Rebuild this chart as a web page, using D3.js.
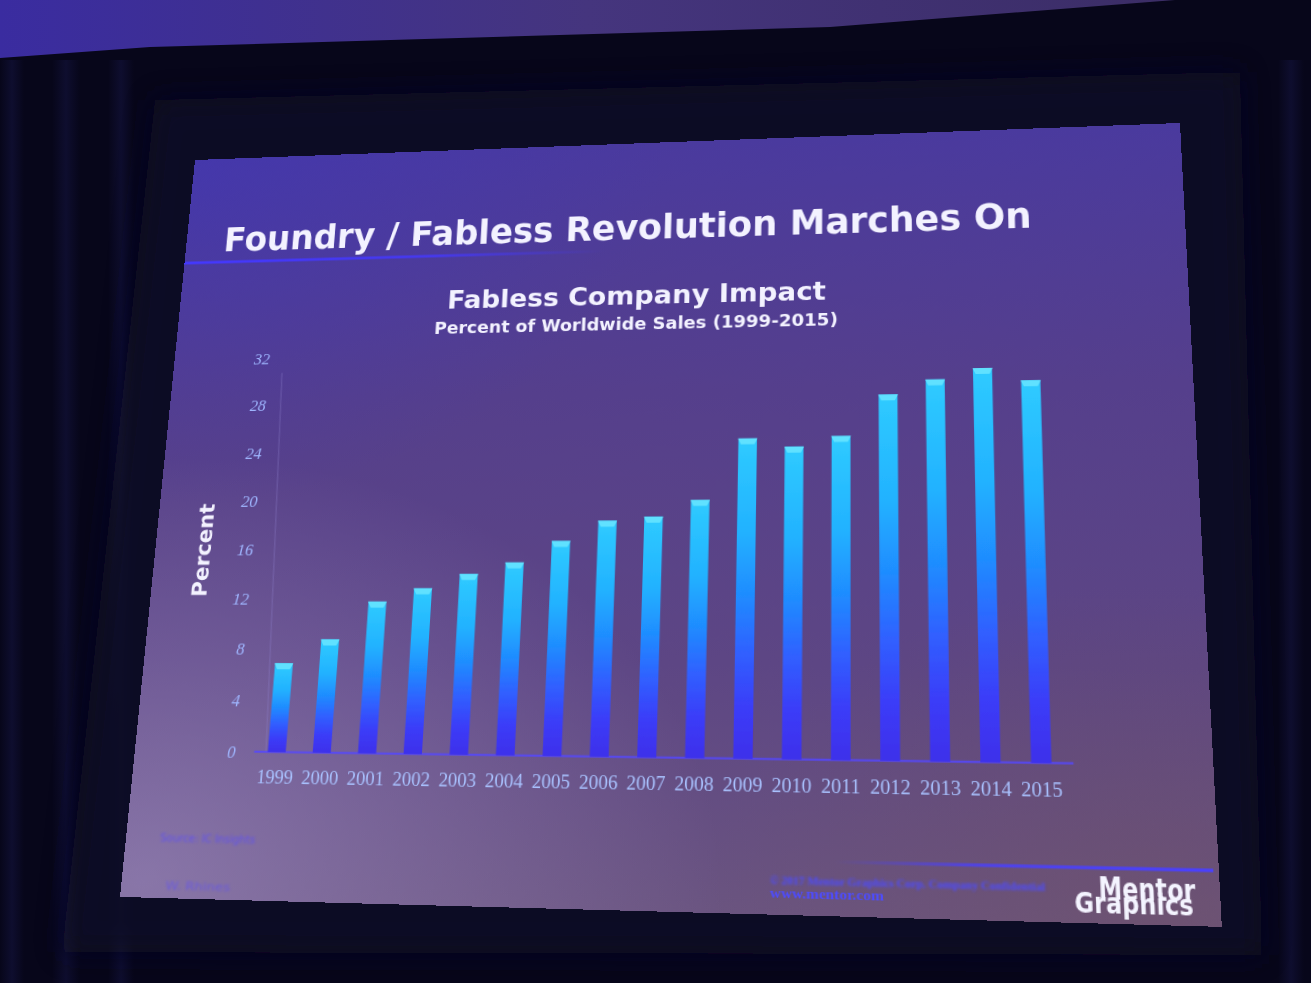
<!DOCTYPE html>
<html><head><meta charset="utf-8">
<script src="https://cdn.jsdelivr.net/npm/d3@7"></script>
<style>
html,body{margin:0;padding:0;width:1311px;height:983px;overflow:hidden;background:#07061a;}
#bg{position:absolute;left:0;top:0;}
#slide{position:absolute;left:0;top:0;width:1024px;height:768px;transform-origin:0 0;}
</style></head><body>
<svg id="bg" width="1311" height="983"></svg>
<div id="slide"></div>
<script>
// ---- data ----
const years = ["1999","2000","2001","2002","2003","2004","2005","2006","2007","2008","2009","2010","2011","2012","2013","2014","2015"];
const percent = [6.9, 8.8, 11.8, 12.85, 14.0, 14.9, 16.6, 18.2, 18.5, 19.8, 24.7, 24.0, 24.8, 28.1, 29.25, 30.1, 29.05];
const yTicks = [0, 4, 8, 12, 16, 20, 24, 28, 32];
const slideTitle = "Foundry / Fabless Revolution Marches On";
const chartTitle = "Fabless Company Impact";
const chartSubtitle = "Percent of Worldwide Sales (1999-2015)";
const yAxisTitle = "Percent";
const footerLines = ["© 2017 Mentor Graphics Corp.     Company Confidential", "www.mentor.com"];
const sourceLines = ["Source: IC Insights", "W. Rhines"];
const logoLines = ["Mentor", "Graphics"];

// ---- photo background ----
const bg = d3.select("#bg");
const bdefs = bg.append("defs");
const wall = bdefs.append("linearGradient").attr("id","wall").attr("x1",0).attr("x2",1).attr("y1",0).attr("y2",0);
wall.append("stop").attr("offset",0).attr("stop-color","#3a2ca0");
wall.append("stop").attr("offset",0.5).attr("stop-color","#45357e");
wall.append("stop").attr("offset",1).attr("stop-color","#3b2d66");
bdefs.append("filter").attr("id","bgblur").attr("x",-0.2).attr("y",-0.2).attr("width",1.4).attr("height",1.4)
  .append("feGaussianBlur").attr("stdDeviation",14);
const fold = bdefs.append("linearGradient").attr("id","fold").attr("x1",0).attr("x2",1).attr("y1",0).attr("y2",0);
fold.append("stop").attr("offset",0).attr("stop-color","#161645").attr("stop-opacity",0);
fold.append("stop").attr("offset",0.5).attr("stop-color","#161645").attr("stop-opacity",0.8);
fold.append("stop").attr("offset",1).attr("stop-color","#161645").attr("stop-opacity",0);
bg.append("rect").attr("width",1311).attr("height",983).attr("fill","#07061a");
bg.append("polygon").attr("points","0,0 1175,0 830,27 150,47 0,58").attr("fill","url(#wall)");
// curtain folds
[[0,24],[52,28],[108,26],[1278,26]].forEach(([fx,fw])=>{
  bg.append("rect").attr("x",fx).attr("y",60).attr("width",fw).attr("height",923).attr("fill","url(#fold)").attr("opacity",0.6);
});
bg.append("polygon").attr("points","155,100 1240,72 1262,955 62,952").attr("fill","#0d0b28").attr("opacity",0.9).attr("filter","url(#bgblur)");

// ---- slide with perspective ----
const W = 1024, H = 768;
const quad = [[195,160],[1180,123],[1222,927],[120,897]];
function quadParams(W,H,q){
  const [x0,y0]=q[0],[x1,y1]=q[1],[x2,y2]=q[2],[x3,y3]=q[3];
  const sx=x0-x1+x2-x3, sy=y0-y1+y2-y3;
  const dx1=x1-x2, dx2=x3-x2, dy1=y1-y2, dy2=y3-y2;
  const det=dx1*dy2-dx2*dy1;
  const g=(sx*dy2-dx2*sy)/det, h=(dx1*sy-sx*dy1)/det;
  return {A:(x1-x0+g*x1)/W, B:(x3-x0+h*x3)/H, C:x0, D:(y1-y0+g*y1)/W, E:(y3-y0+h*y3)/H, F:y0, G:g/W, Hh:h/H};
}
const P = quadParams(W,H,quad);
d3.select("#slide").style("transform",
  `matrix3d(${P.A},${P.D},0,${P.G},${P.B},${P.E},0,${P.Hh},0,0,1,0,${P.C},${P.F},0,1)`);
// photo point -> slide point
function S(X,Y){
  const a11=P.A-X*P.G, a12=P.B-X*P.Hh, b1=X-P.C;
  const a21=P.D-Y*P.G, a22=P.E-Y*P.Hh, b2=Y-P.F;
  const det=a11*a22-a12*a21;
  return [(b1*a22-a12*b2)/det, (a11*b2-b1*a21)/det];
}

const svg = d3.select("#slide").append("svg").attr("width",W).attr("height",H);
const defs = svg.append("defs");
const sg = defs.append("linearGradient").attr("id","slideBg").attr("x1",0).attr("x2",0).attr("y1",0).attr("y2",1);
sg.append("stop").attr("offset",0).attr("stop-color","#4a3a9e");
sg.append("stop").attr("offset",0.35).attr("stop-color","#553f8c");
sg.append("stop").attr("offset",0.7).attr("stop-color","#5d4684");
sg.append("stop").attr("offset",1).attr("stop-color","#6a5480");
const rg = defs.append("radialGradient").attr("id","glowBL").attr("cx",0.02).attr("cy",0.98).attr("r",0.55);
rg.append("stop").attr("offset",0).attr("stop-color","#a898d0").attr("stop-opacity",0.5);
rg.append("stop").attr("offset",1).attr("stop-color","#a898d0").attr("stop-opacity",0);
const rg2 = defs.append("radialGradient").attr("id","glowBR").attr("cx",0.95).attr("cy",1).attr("r",0.4);
rg2.append("stop").attr("offset",0).attr("stop-color","#705060").attr("stop-opacity",0.45);
rg2.append("stop").attr("offset",1).attr("stop-color","#705060").attr("stop-opacity",0);
const rg3 = defs.append("radialGradient").attr("id","glowTL").attr("cx",0).attr("cy",0).attr("r",0.5);
rg3.append("stop").attr("offset",0).attr("stop-color","#3f35b8").attr("stop-opacity",0.5);
rg3.append("stop").attr("offset",1).attr("stop-color","#3f35b8").attr("stop-opacity",0);
const bar = defs.append("linearGradient").attr("id","barGrad").attr("x1",0).attr("x2",0).attr("y1",0).attr("y2",1);
[[0,"#2fcbff"],[0.3,"#22b2ff"],[0.5,"#1f8cff"],[0.68,"#3060ff"],[0.85,"#3b3cf8"],[1,"#3d30ea"]]
  .forEach(([o,c])=>bar.append("stop").attr("offset",o).attr("stop-color",c));
const ul = defs.append("linearGradient").attr("id","underline").attr("x1",0).attr("x2",1).attr("y1",0).attr("y2",0);
ul.append("stop").attr("offset",0).attr("stop-color","#4438ff").attr("stop-opacity",1);
ul.append("stop").attr("offset",0.6).attr("stop-color","#4438ff").attr("stop-opacity",0.8);
ul.append("stop").attr("offset",1).attr("stop-color","#4438ff").attr("stop-opacity",0);
const fl = defs.append("linearGradient").attr("id","footline").attr("x1",0).attr("x2",1).attr("y1",0).attr("y2",0);
fl.append("stop").attr("offset",0).attr("stop-color","#4a40ff").attr("stop-opacity",0);
fl.append("stop").attr("offset",0.4).attr("stop-color","#4a40ff").attr("stop-opacity",0.8);
fl.append("stop").attr("offset",1).attr("stop-color","#4a40ff").attr("stop-opacity",1);
defs.append("filter").attr("id","soft").append("feGaussianBlur").attr("stdDeviation",0.7);
defs.append("filter").attr("id","blurry").append("feGaussianBlur").attr("stdDeviation",1.3);

svg.append("rect").attr("width",W).attr("height",H).attr("fill","url(#slideBg)");
svg.append("rect").attr("width",W).attr("height",H).attr("fill","url(#glowTL)");
svg.append("rect").attr("width",W).attr("height",H).attr("fill","url(#glowBL)");
svg.append("rect").attr("width",W).attr("height",H).attr("fill","url(#glowBR)");

const sans = "'DejaVu Sans', Verdana, sans-serif";
const serif = "'Liberation Serif', 'DejaVu Serif', serif";

// slide title
const t0 = S(223,250), t1 = S(1032,229);
svg.append("text").attr("x",t0[0]).attr("y",(t0[1]+t1[1])/2).text(slideTitle)
  .attr("font-family",sans).attr("font-weight","bold").attr("font-size",38)
  .attr("textLength",t1[0]-t0[0]).attr("lengthAdjust","spacingAndGlyphs").attr("fill","#f3f2ff");
const u0 = S(190,263);
svg.append("rect").attr("x",0).attr("y",u0[1]-1.5).attr("width",450).attr("height",3).attr("fill","url(#underline)");

// chart titles
const c0 = S(447,306), c1 = S(826,302);
svg.append("text").attr("x",(c0[0]+c1[0])/2).attr("y",(c0[1]+c1[1])/2).attr("text-anchor","middle").text(chartTitle)
  .attr("font-family",sans).attr("font-weight","bold").attr("font-size",26)
  .attr("textLength",c1[0]-c0[0]).attr("lengthAdjust","spacingAndGlyphs").attr("fill","#f3f2ff");
const s0 = S(434,332), s1 = S(838,327);
svg.append("text").attr("x",(s0[0]+s1[0])/2).attr("y",(s0[1]+s1[1])/2).attr("text-anchor","middle").text(chartSubtitle)
  .attr("font-family",sans).attr("font-weight","bold").attr("font-size",17)
  .attr("textLength",s1[0]-s0[0]).attr("lengthAdjust","spacingAndGlyphs").attr("fill","#f3f2ff");

// chart geometry from photo anchor points
const yZero = S(265,752)[1], yTop = S(265,359)[1];
const firstC = S(281,700)[0], lastC = S(1036,570)[0];
const step = (lastC-firstC)/(years.length-1);
const padI = 0.6, padO = 0.3;
const xStart = firstC - step*padO - step*(1-padI)/2;
const xEnd = xStart + step*(years.length - padI + 2*padO);
const x = d3.scaleBand().domain(years).range([xStart,xEnd]).paddingInner(padI).paddingOuter(padO);
const y = d3.scaleLinear().domain([0,32]).range([yZero,yTop]);

const labelRight = S(270,359)[0];
// faint vertical axis line
const va = S(282,373), vb = S(266,752);
svg.append("line").attr("x1",va[0]).attr("x2",vb[0]).attr("y1",va[1]).attr("y2",yZero)
  .attr("stroke","#8e80cc").attr("stroke-width",1.5).attr("opacity",0.3);
const yAx = svg.append("g").attr("transform",`translate(${labelRight+8},0)`)
  .call(d3.axisLeft(y).tickValues(yTicks).tickSize(0).tickPadding(8));
yAx.select(".domain").remove();
yAx.selectAll("text").attr("font-family",serif).attr("font-style","italic").attr("font-size",17).attr("fill","#9fb6ff");

const pc = S(203,550);
svg.append("text").attr("transform",`translate(${pc[0]+8},${pc[1]}) rotate(-90)`).attr("text-anchor","middle")
  .text(yAxisTitle).attr("font-family",sans).attr("font-weight","bold").attr("font-size",22).attr("fill","#f3f2ff");

const labC = S(281,777)[1];
const xAx = svg.append("g").attr("transform",`translate(0,${yZero})`)
  .call(d3.axisBottom(x).tickSize(0).tickPadding(labC - yZero - 6.5));
xAx.select(".domain").attr("d",`M${vb[0]-12},0H${xEnd+6}`).attr("stroke","#5548ff").attr("stroke-width",2).attr("opacity",0.85);
xAx.selectAll("text").attr("font-family",serif).attr("font-size",18.5).attr("fill","#a9c2ff");

const data = years.map((yr,i)=>({yr, v:percent[i]}));
const bars = svg.append("g");
bars.selectAll("rect").data(data).join("rect")
  .attr("x",d=>x(d.yr)).attr("y",d=>y(d.v))
  .attr("width",x.bandwidth()).attr("height",d=>y(0)-y(d.v))
  .attr("fill","url(#barGrad)").attr("filter","url(#soft)");
bars.selectAll("path").data(data).join("path")
  .attr("d",d=>{const x0=x(d.yr), bw=x.bandwidth(), t=y(d.v);
    return `M${x0-0.5},${t} L${x0+bw+0.5},${t} L${x0+bw-2.5},${t+6} L${x0+2.5},${t+6} Z`;})
  .attr("fill","#66e4ff").attr("opacity",0.9).attr("filter","url(#soft)");

// footer
const f0 = S(835,862), f1 = S(1213,862);
svg.append("rect").attr("x",f0[0]).attr("y",f0[1]-1.5).attr("width",f1[0]-f0[0]).attr("height",3).attr("fill","url(#footline)");
const ft0 = S(770,884), ft1 = S(1045,884), fw1 = S(884,898), fw0 = S(770,898);
svg.append("text").attr("x",ft0[0]).attr("y",ft0[1]).text(footerLines[0])
  .attr("font-family",serif).attr("font-weight","bold").attr("font-size",11).attr("fill","#4e4cff")
  .attr("textLength",ft1[0]-ft0[0]).attr("lengthAdjust","spacingAndGlyphs").attr("filter","url(#blurry)");
svg.append("text").attr("x",fw0[0]).attr("y",fw0[1]).text(footerLines[1])
  .attr("font-family",serif).attr("font-weight","bold").attr("font-size",12).attr("fill","#4e4cff")
  .attr("textLength",fw1[0]-fw0[0]).attr("lengthAdjust","spacingAndGlyphs").attr("filter","url(#soft)");
const so0 = S(160,841), so1 = S(255,841), sr0 = S(165,890), sr1 = S(230,890);
svg.append("text").attr("x",so0[0]).attr("y",so0[1]).text(sourceLines[0])
  .attr("font-family",sans).attr("font-size",11).attr("fill","#5a4cff").attr("opacity",0.8)
  .attr("textLength",so1[0]-so0[0]).attr("lengthAdjust","spacingAndGlyphs").attr("filter","url(#blurry)");
svg.append("text").attr("x",sr0[0]).attr("y",sr0[1]).text(sourceLines[1])
  .attr("font-family",sans).attr("font-size",10).attr("fill","#5a4cff").attr("opacity",0.6)
  .attr("textLength",sr1[0]-sr0[0]).attr("lengthAdjust","spacingAndGlyphs").attr("filter","url(#blurry)");

// logo
const m0 = S(1099,899), m1 = S(1196,899), g0 = S(1075,912), g1 = S(1194,912);
svg.append("text").attr("x",m0[0]).attr("y",m0[1]).text(logoLines[0])
  .attr("font-family",sans).attr("font-weight","bold").attr("font-size",26).attr("fill","#f4f4ff")
  .attr("textLength",m1[0]-m0[0]).attr("lengthAdjust","spacingAndGlyphs");
svg.append("text").attr("x",g0[0]).attr("y",g0[1]).text(logoLines[1])
  .attr("font-family",sans).attr("font-weight","bold").attr("font-size",25).attr("fill","#f4f4ff")
  .attr("textLength",g1[0]-g0[0]).attr("lengthAdjust","spacingAndGlyphs");
</script>
</body></html>
